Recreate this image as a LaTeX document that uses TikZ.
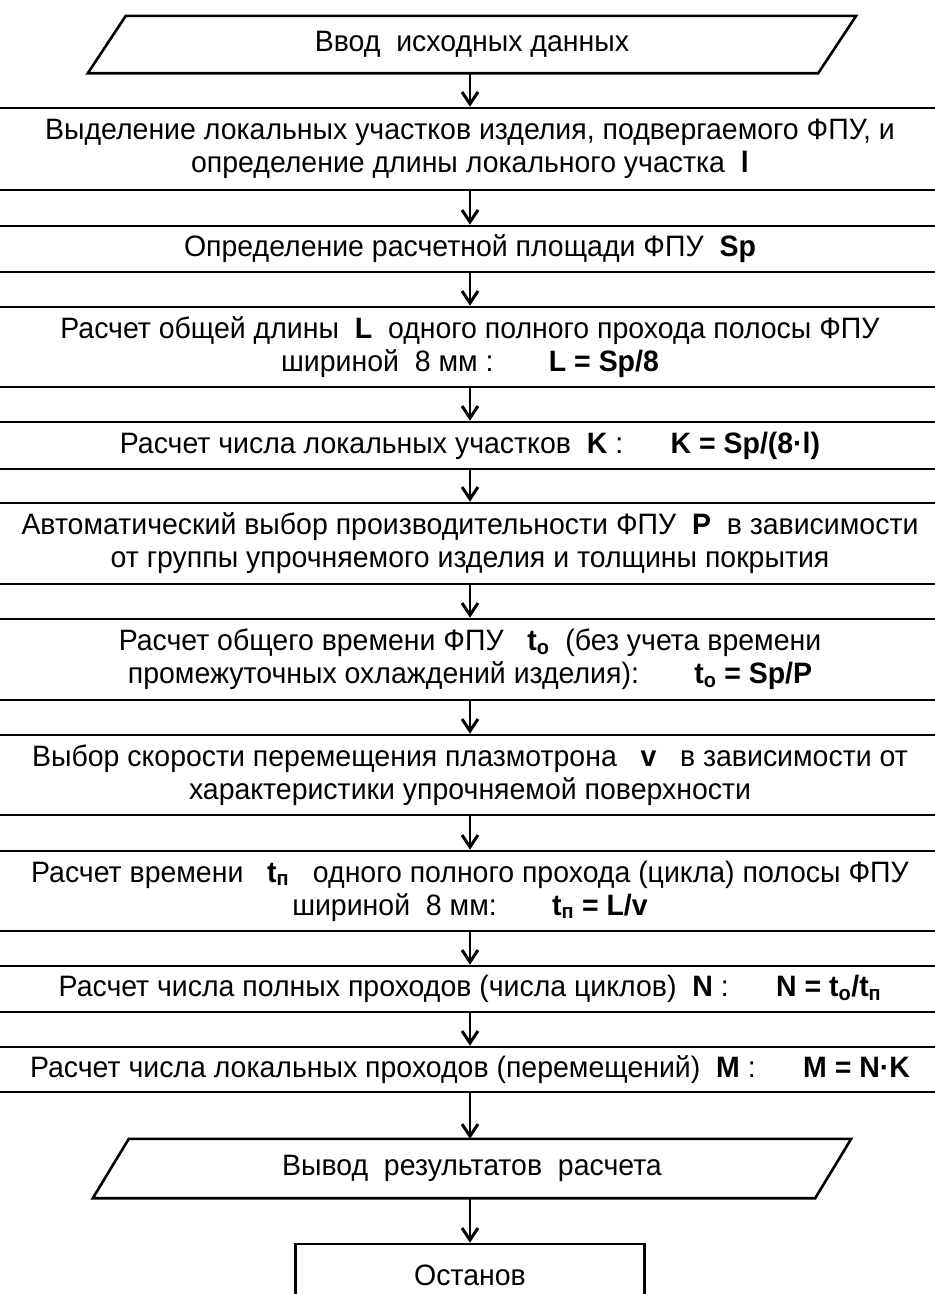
\documentclass[tikz,border=0pt]{standalone}
\usepackage{fontspec}
\setmainfont[FakeStretch=0.965]{Liberation Sans}
\usetikzlibrary{arrows.meta}
\newcommand\myfs{\fontsize{29.5}{33}\selectfont}
\begin{document}
\begin{tikzpicture}[x=1pt,y=-1pt,
  box/.style={draw, line width=2.6pt, minimum width=975pt, inner sep=0pt, align=center, font=\myfs},
  para/.style={draw=none, inner sep=0pt, align=center, font=\myfs},
  stopbox/.style={draw, line width=2.6pt, minimum width=349pt, minimum height=62pt, inner sep=0pt, font=\myfs},
  arr/.style={line width=2.8pt, -{Straight Barb[length=12pt,width=16pt,line width=3pt]}},
  pline/.style={line width=2.6pt, line join=miter}]
\useasboundingbox (0,0) rectangle (935,1294);
\fill[white] (0,0) rectangle (935,1294);
\clip (0,0) rectangle (935,1294);

% input parallelogram
\node[para, minimum width=730pt, minimum height=57pt] (p1) at (472,44.5) {Ввод~~исходных данных};
\draw[pline] ([xshift=19pt]p1.north west) -- ([xshift=19pt]p1.north east) -- ([xshift=-19pt]p1.south east) -- ([xshift=-19pt]p1.south west) -- cycle;

\node[box, minimum height=82pt] (b1) at (470,149) {Выделение локальных участков изделия, подвергаемого ФПУ, и\\ определение длины локального участка~~\textbf{l}};

\node[box, minimum height=46pt] (b2) at (470,249) {Определение расчетной площади ФПУ~~\textbf{Sp}};

\node[box, minimum height=80pt] (b3) at (470,347) {Расчет общей длины~~\textbf{L}~~одного полного прохода полосы ФПУ\\ шириной~~8 мм :~~~~~~~\textbf{L = Sp/8}};

\node[box, minimum height=47pt] (b4) at (470,445.5) {Расчет числа локальных участков~~\textbf{K} :~~~~~~\textbf{K = Sp/(8·l)}};

\node[box, minimum height=81pt] (b5) at (470,543.5) {Автоматический выбор производительности ФПУ~~\textbf{P}~~в зависимости\\ от группы упрочняемого изделия и толщины покрытия};

\node[box, minimum height=81pt] (b6) at (470,659.5) {Расчет общего времени ФПУ~~~\textbf{t\textsubscript{o}}~~(без учета времени\\ промежуточных охлаждений изделия):~~~~~~~\textbf{t\textsubscript{o} = Sp/P}};

\node[box, minimum height=80pt] (b7) at (470,775) {Выбор скорости перемещения плазмотрона~~~\textbf{v}~~~в зависимости от\\ характеристики упрочняемой поверхности};

\node[box, minimum height=80pt] (b8) at (470,891) {Расчет времени~~~\textbf{t\textsubscript{п}}~~~одного полного прохода (цикла) полосы ФПУ\\ шириной~~8 мм:~~~~~~~\textbf{t\textsubscript{п} = L/v}};

\node[box, minimum height=46pt] (b9) at (470,989) {Расчет числа полных проходов (числа циклов)~~\textbf{N} :~~~~~~\textbf{N = t\textsubscript{o}/t\textsubscript{п}}};

\node[box, minimum height=45pt] (b10) at (470,1069.5) {Расчет числа локальных проходов (перемещений)~~\textbf{M} :~~~~~~\textbf{M = N·K}};

% output parallelogram
\node[para, minimum width=722pt, minimum height=59pt] (p2) at (472,1168.5) {Вывод~~результатов~~расчета};
\draw[pline] ([xshift=18pt]p2.north west) -- ([xshift=18pt]p2.north east) -- ([xshift=-18pt]p2.south east) -- ([xshift=-18pt]p2.south west) -- cycle;

\node[stopbox] (stop) at (470,1275) {Останов};

\draw[arr] (p1.south -| b1) -- (b1);
\draw[arr] (b1) -- (b2);
\draw[arr] (b2) -- (b3);
\draw[arr] (b3) -- (b4);
\draw[arr] (b4) -- (b5);
\draw[arr] (b5) -- (b6);
\draw[arr] (b6) -- (b7);
\draw[arr] (b7) -- (b8);
\draw[arr] (b8) -- (b9);
\draw[arr] (b9) -- (b10);
\draw[arr] (b10) -- (p2.north -| b10);
\draw[arr] (p2.south -| stop) -- (stop);
\end{tikzpicture}
\end{document}
